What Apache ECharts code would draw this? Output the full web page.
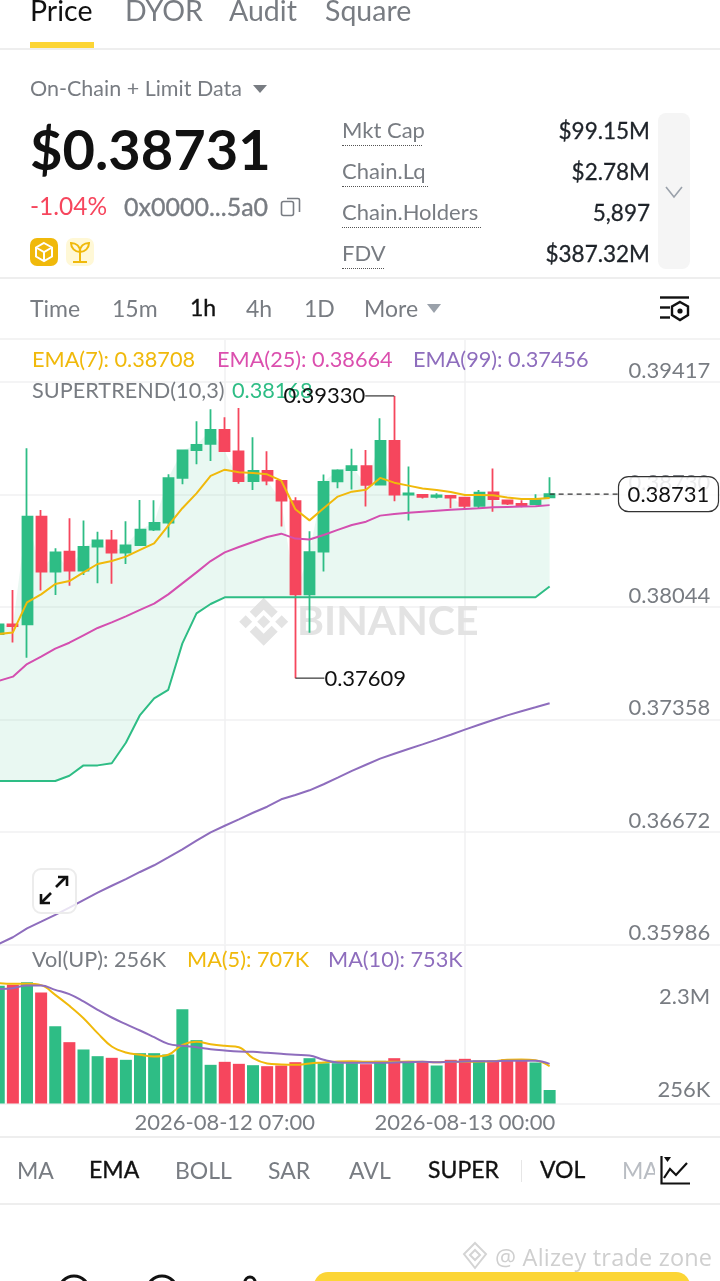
<!DOCTYPE html>
<html><head><meta charset="utf-8">
<script src="https://cdn.jsdelivr.net/npm/echarts@6/dist/echarts.min.js"></script>
<style>
html,body{margin:0;padding:0;background:#fff;width:720px;height:1281px;overflow:hidden;font-family:Lato,sans-serif;}
#c{position:absolute;left:0;top:0;width:720px;height:1281px;}
.t{position:absolute;white-space:nowrap;transform:translateY(-50%);color:#787c82;font-size:22px;line-height:1.2;}
.k{color:#111;}
.m{-webkit-text-stroke:.35px currentColor;}
.b{font-size:23px;}
.r{text-align:right;right:70px;color:#1e2329;font-size:22.5px;-webkit-text-stroke:.3px currentColor;}
.hr{position:absolute;left:0;width:720px;height:1.5px;background:#eeeeee;}
.dot{position:absolute;left:342px;height:0;border-top:1.5px dotted #555;}
svg{position:absolute;overflow:visible;}
</style></head><body>
<div id="c"></div>

<div class="t k" style="left:30px;top:9.5px;font-size:28.5px">Price</div>
<div class="t" style="left:125px;top:9.5px;font-size:28.5px">DYOR</div>
<div class="t" style="left:229px;top:9.5px;font-size:28.5px">Audit</div>
<div class="t" style="left:325px;top:9.5px;font-size:28.5px">Square</div>
<div style="position:absolute;left:30px;top:42px;width:64px;height:6px;background:#FCD535"></div>
<div class="hr" style="top:48px"></div>

<div class="t" style="left:30px;top:89px;font-size:21.5px">On-Chain + Limit Data</div>
<svg style="left:0;top:0" width="10" height="10"><polygon points="253,85 267,85 260,93" fill="#787c82"/></svg>
<div class="t k" style="left:30px;top:149px;font-size:56px;font-weight:700">$0.38731</div>
<div class="t" style="left:30px;top:206px;font-size:24.5px;color:#F6465D">-1.04%</div>
<div class="t m" style="left:124px;top:206px;font-size:25px">0x0000...5a0</div>
<svg style="left:0;top:0" width="10" height="10"><g fill="none" stroke="#787c82" stroke-width="1.6"><rect x="281.5" y="201.5" width="12" height="14" rx="2"/><path d="M287 198.5 h11 a1.5 1.5 0 0 1 1.5 1.5 v12"/></g></svg>
<div style="position:absolute;left:30px;top:238px;width:28px;height:28px;border-radius:7px;background:#F0B90B"></div>
<svg style="left:0;top:0" width="10" height="10"><g fill="none" stroke="#fff" stroke-width="2"><polygon points="44,243 52,247.5 52,256.5 44,261 36,256.5 36,247.5"/><polyline points="37,248 44,252 51,248"/><line x1="44" y1="252" x2="44" y2="260"/></g></svg>
<div style="position:absolute;left:66px;top:238px;width:28px;height:28px;border-radius:7px;background:#FFF8D6"></div>
<svg style="left:0;top:0" width="10" height="10"><g fill="none" stroke="#F0B90B" stroke-width="2"><line x1="80" y1="247" x2="80" y2="262"/><line x1="73" y1="262" x2="87" y2="262"/><path d="M80 252 C75 252 71 248 71 243 C76 243 80 246 80 252 C80 246 84 243 89 243 C89 248 85 252 80 252"/></g></svg>

<div class="t" style="left:342px;top:129.5px">Mkt Cap</div><div class="dot" style="top:145px;width:80px"></div>
<div class="t" style="left:342px;top:170.5px">Chain.Lq</div><div class="dot" style="top:186px;width:86px"></div>
<div class="t" style="left:342px;top:211.5px">Chain.Holders</div><div class="dot" style="top:227px;width:139px"></div>
<div class="t" style="left:342px;top:252.5px">FDV</div><div class="dot" style="top:268px;width:42px"></div>
<div class="t r" style="top:130px">$99.15M</div>
<div class="t r" style="top:171px">$2.78M</div>
<div class="t r" style="top:212px">5,897</div>
<div class="t r" style="top:253px">$387.32M</div>
<div style="position:absolute;left:658px;top:113px;width:32px;height:156px;border-radius:8px;background:#F5F5F5"></div>
<svg style="left:0;top:0" width="10" height="10"><polyline points="666,187 674,197 682,187" fill="none" stroke="#9aa1aa" stroke-width="1.6"/></svg>
<div class="hr" style="top:277px"></div>

<div class="t b" style="left:30px;top:309px">Time</div>
<div class="t b" style="left:112px;top:309px">15m</div>
<div class="t k b m" style="left:190px;top:308px">1h</div>
<div class="t b" style="left:246px;top:309px">4h</div>
<div class="t b" style="left:304px;top:309px">1D</div>
<div class="t b" style="left:364px;top:309px">More</div>
<svg style="left:0;top:0" width="10" height="10"><polygon points="427,304 441,304 434,313" fill="#9aa1aa"/>
<g fill="none" stroke="#111" stroke-width="2.4"><line x1="660" y1="297.5" x2="689" y2="297.5"/><line x1="660" y1="307.5" x2="670" y2="307.5"/><line x1="660" y1="317.5" x2="670" y2="317.5"/><polygon points="680,302 688,306.5 688,315 680,320 672,315 672,306.5"/></g><circle cx="680" cy="311" r="2.6" fill="#111"/></svg>
<div class="hr" style="top:338px;height:2px;background:#f3f3f3"></div>

<div style="position:absolute;left:32px;top:868px;width:41px;height:42px;border:2.5px solid #ececec;border-radius:9px;background:rgba(255,255,255,.8)"></div>
<svg style="left:0;top:0" width="10" height="10"><g fill="none" stroke="#111" stroke-width="2.6"><line x1="56" y1="887" x2="66" y2="877"/><polyline points="58,877 67,877 67,886"/><line x1="41" y1="903" x2="51" y2="893"/><polyline points="41,894 41,903 50,903"/></g></svg>

<div class="hr" style="top:1136px"></div>
<div class="t b" style="left:17px;top:1171px">MA</div>
<div class="t k b m" style="left:89px;top:1170px">EMA</div>
<div class="t b" style="left:175px;top:1171px">BOLL</div>
<div class="t b" style="left:268px;top:1171px">SAR</div>
<div class="t b" style="left:349px;top:1171px">AVL</div>
<div class="t k b m" style="left:428px;top:1170px">SUPER</div>
<div style="position:absolute;left:521px;top:1160px;width:1px;height:22px;background:#e6e6e6"></div>
<div class="t k b m" style="left:540px;top:1170px">VOL</div>
<div class="t b" style="left:622px;top:1171px;color:#b9bdc3;width:33px;overflow:hidden">MA</div>
<svg style="left:0;top:0" width="10" height="10"><g fill="none" stroke="#111" stroke-width="2.2"><polyline points="661.5,1156 661.5,1183.5 690,1183.5"/><polyline points="664,1178 670,1169 676,1175 687,1163"/></g><polygon points="664,1157 671,1157 667.5,1162" fill="#111"/></svg>
<div class="hr" style="top:1203px"></div>

<div class="t" style="left:495px;top:1257px;color:#cfcfcf;font-size:23.5px;letter-spacing:.2px;font-family:'Open Sans'">@ Alizey trade zone</div>
<svg style="left:0;top:0" width="10" height="10"><g fill="none" stroke="#d4d4d4" stroke-width="2"><polygon points="475,1243 486,1254 475,1268 464,1254"/><polygon points="475,1250 480,1255 475,1260 470,1255"/></g></svg>
<svg style="left:0;top:0" width="10" height="10"><g fill="none" stroke="#111" stroke-width="3"><circle cx="74" cy="1291" r="15"/><circle cx="162" cy="1291" r="15"/><circle cx="250" cy="1282" r="5"/></g></svg>
<div style="position:absolute;left:314px;top:1272px;width:376px;height:40px;border-radius:14px;background:#FCD535"></div>

<script>
var times=['08-11 15:00','08-11 16:00','08-11 17:00','08-11 18:00','08-11 19:00','08-11 20:00','08-11 21:00','08-11 22:00','08-11 23:00',
'08-12 00:00','08-12 01:00','08-12 02:00','08-12 03:00','08-12 04:00','08-12 05:00','08-12 06:00','08-12 07:00','08-12 08:00','08-12 09:00','08-12 10:00','08-12 11:00','08-12 12:00','08-12 13:00','08-12 14:00','08-12 15:00','08-12 16:00','08-12 17:00','08-12 18:00','08-12 19:00','08-12 20:00','08-12 21:00','08-12 22:00','08-12 23:00',
'08-13 00:00','08-13 01:00','08-13 02:00','08-13 03:00','08-13 04:00','08-13 05:00','08-13 06:00','08-13 07:00','08-13 08:00','08-13 09:00','08-13 10:00','08-13 11:00','08-13 12:00','08-13 13:00','08-13 14:00','08-13 15:00','08-13 16:00','08-13 17:00','08-13 18:00','08-13 19:00'];
var opens=[.37878,.37937,.37937,.38594,.38258,.3838,.38265,.38411,.38449,.38374,.38421,.38515,.38557,.3883,.39,.39037,.39122,.38992,.38811,.38872,.38811,.38689,.3812,.3838,.38809,.38878,.38901,.38789,.39055,.38728,.38726,.38714,.3872,.3871,.38659,.38742,.38693,.38671,.38671,.38712];
var closes=[.37937,.37927,.38594,.38258,.38376,.38265,.38409,.38449,.38374,.38419,.38515,.38555,.38828,.38998,.39031,.39122,.38994,.38811,.38872,.38813,.38691,.3812,.38378,.38805,.38876,.38901,.38787,.39055,.38728,.38736,.38714,.38724,.3871,.38659,.3874,.387,.38673,.38659,.38695,.38731];
var lows=[.37878,.37827,.37734,.38143,.38116,.38173,.38238,.38187,.38185,.38305,.38417,.38506,.38466,.38791,.38913,.38933,.3899,.38795,.38756,.38785,.38533,.37609,.37886,.3826,.38767,.3876,.38655,.38789,.38687,.38571,.38704,.38704,.38645,.38639,.38645,.38624,.38665,.38651,.38669,.3871];
var highs=[.37937,.38147,.39011,.38634,.38401,.38584,.38571,.38502,.38513,.38565,.38695,.38693,.38852,.38998,.39175,.39248,.392,.39256,.39078,.38992,.38811,.38712,.38504,.3885,.38882,.39008,.39,.39193,.3933,.38899,.38726,.38736,.3872,.3871,.38756,.38887,.38693,.38693,.3873,.38834];
var ema7=[.37878,.37888,.38071,.3812,.38183,.38201,.38254,.38305,.38323,.3835,.38391,.38431,.38539,.38645,.38736,.38842,.3888,.38864,.3886,.38852,.38813,.38639,.38571,.38645,.38716,.38746,.38758,.3883,.38801,.38783,.38765,.38756,.38744,.38726,.38726,.38724,.3871,.38702,.38702,.38708];
var ema25=[.37592,.37618,.37695,.3774,.37789,.37825,.3787,.37915,.37949,.37986,.38025,.38063,.3812,.38187,.38254,.38323,.38376,.38409,.38439,.3847,.3849,.3846,.38454,.38482,.38513,.38543,.38563,.386,.3861,.38618,.38624,.3863,.38636,.38641,.38645,.38651,.38653,.38655,.38657,.38664];
var ema99=[.35988,.36029,.36083,.36124,.36166,.36209,.36256,.36301,.36343,.36384,.36427,.36468,.36516,.36565,.36618,.36669,.36709,.36748,.36788,.36825,.3687,.36896,.36925,.36962,.37002,.37043,.37081,.37118,.37148,.37177,.37205,.37234,.37264,.37295,.37325,.37354,.37382,.37407,.37431,.37456];
var superTrend=[.36982,.36982,.36982,.36982,.36982,.37014,.37077,.37077,.3709,.37215,.37384,.37486,.37538,.37821,.38004,.38061,.38102,.38102,.38102,.38102,.38102,.38102,.38102,.38102,.38102,.38102,.38102,.38102,.38102,.38102,.38102,.38102,.38102,.38102,.38102,.38102,.38102,.38102,.38102,.38168];
var volumes=[2233,2252,2300,2107,1468,1164,1025,898,867,829,955,955,930,1790,1202,734,791,753,727,708,721,784,860,765,765,765,746,810,860,784,797,721,829,848,816,816,841,829,778,256];
var volMa5=[2284,2271,2271,2246,2062,1854,1619,1335,1082,968,924,892,924,1113,1170,1126,1094,1069,860,759,740,734,759,778,797,803,791,791,791,797,791,784,791,791,797,803,829,835,822,707];
var volMa10=[2170,2189,2239,2239,2157,2075,1936,1778,1632,1506,1385,1259,1132,1094,1069,1031,1006,987,981,962,943,924,911,829,778,772,772,772,778,784,791,784,791,797,803,803,810,810,810,753];
var priceTicks=[.35986,.36672,.37358,.38044,.3873,.39417];
var volTicks=[256,2300];
var tickedTimes=['08-12 07:00','08-13 00:00'];
var extremes=[[28,.3933,-1],[21,.37609,1]];
var lastPrice=.38731;

var UP='#2EBD85',DOWN='#F6465D',GRID='#f0f1f2',LABEL='#787c82',FONT='Lato',FS=22;
var isTick=function(i,v){return tickedTimes.indexOf(v)>=0;};
var candles=opens.map(function(o,i){return [o,closes[i],lows[i],highs[i]];});
var idx=function(a){return a.map(function(v,i){return [i,v];});};
var diamond=function(cx,cy,r){return {type:'polygon',z:1,shape:{points:[[cx,cy-r],[cx+r,cy],[cx,cy+r],[cx-r,cy]]},style:{fill:'#e3e3e3'}};};
var chevron=function(cx,cy,s){return {type:'polygon',z:1,shape:{points:[[cx,cy],[cx+14,cy+s*14],[cx+8,cy+s*20],[cx,cy+s*12],[cx-8,cy+s*20],[cx-14,cy+s*14]]},style:{fill:'#e3e3e3'}};};
var legendText=function(x,y,text,color){return {type:'text',z:1,left:x,top:y,style:{text:text,fill:color,font:'400 21.7px '+FONT}};};
var lineS=function(name,data,color,ax,smooth,w){return {name:name,type:'line',xAxisIndex:ax,yAxisIndex:ax,data:data,showSymbol:false,smooth:smooth,z:5,silent:true,lineStyle:{color:color,width:w||2},itemStyle:{color:color}};};

var chart=echarts.init(document.getElementById('c'),null,{renderer:'canvas'});
chart.setOption({
 animation:false,
 grid:[{left:-1.25,top:339,width:734.5,height:605.3,outerBoundsMode:'none'},{left:-1.25,top:945,width:734.5,height:158.5,outerBoundsMode:'none'}],
 xAxis:[
  {type:'category',gridIndex:0,data:times,boundaryGap:false,axisLine:{show:false},axisTick:{show:false},axisLabel:{show:false},
   splitLine:{show:true,interval:isTick,lineStyle:{color:GRID,width:1.5}}},
  {type:'category',gridIndex:1,data:times,boundaryGap:false,axisLine:{show:true,lineStyle:{color:GRID,width:1.5}},axisTick:{show:false},
   splitLine:{show:true,interval:isTick,lineStyle:{color:GRID,width:1.5}},
   axisLabel:{interval:isTick,formatter:function(v){return '2026-'+v;},color:LABEL,fontSize:FS,fontFamily:FONT,margin:8,hideOverlap:false}}
 ],
 yAxis:[
  {type:'value',gridIndex:0,position:'right',min:.35986,max:.39677,axisLine:{show:false},
   axisTick:{show:false,customValues:priceTicks},
   splitLine:{show:true,lineStyle:{color:GRID,width:1.5}},
   axisLabel:{customValues:priceTicks,inside:true,margin:23,verticalAlign:'bottom',align:'right',color:LABEL,fontSize:FS,fontFamily:FONT,lineHeight:22,showMinLabel:true,showMaxLabel:true,
     formatter:function(v){return v.toFixed(5);}}},
  {type:'value',gridIndex:1,position:'right',min:0,max:3008,axisLine:{show:false},
   axisTick:{show:false,customValues:volTicks},splitLine:{show:false},
   axisLabel:{customValues:volTicks,inside:true,margin:23,align:'right',color:LABEL,fontSize:FS,fontFamily:FONT,showMinLabel:true,showMaxLabel:true,
     formatter:function(v){return v>=1000?'{top|'+(v/1000).toFixed(1)+'M}':'{low|'+v+'K}';},
     rich:{top:{color:LABEL,fontSize:FS,fontFamily:FONT,padding:[29,0,0,0]},low:{color:LABEL,fontSize:FS,fontFamily:FONT}}}}
 ],
 graphic:{elements:[
  chevron(263.7,597.7,1),chevron(263.7,645.7,-1),diamond(263.7,621.7,6.5),diamond(245.7,621.7,6.5),diamond(281.7,621.7,6.5),
  {type:'text',z:1,left:297,top:601,style:{text:'BINANCE',fill:'#e3e3e3',font:'700 41px '+FONT}},
  legendText(32,349,'EMA(7): 0.38708','#F0B90B'),
  legendText(217,349,'EMA(25): 0.38664','#DB4FAE'),
  legendText(413,349,'EMA(99): 0.37456','#8E6DBD'),
  legendText(32,380,'SUPERTREND(10,3)',LABEL),
  legendText(232,380,'0.38168',UP),
  legendText(32,949,'Vol(UP): 256K',LABEL),
  legendText(187,949,'MA(5): 707K','#F0B90B'),
  legendText(328,949,'MA(10): 753K','#8E6DBD')
 ]},
 series:[
  {name:'fill',type:'custom',xAxisIndex:0,yAxisIndex:0,z:1,silent:true,data:idx(closes),
   renderItem:function(p,api){
     if(p.dataIndex!==0)return null;
     var pts=[],i;
     for(i=0;i<closes.length;i++)pts.push(api.coord([i,closes[i]]));
     for(i=closes.length-1;i>=0;i--)pts.push(api.coord([i,superTrend[i]]));
     return {type:'polygon',shape:{points:pts},style:{fill:'rgba(46,189,133,0.105)'}};
   }},
  {name:'K',type:'candlestick',xAxisIndex:0,yAxisIndex:0,data:candles,barWidth:10.5,z:3,silent:true,
   itemStyle:{color:UP,color0:DOWN,borderColor:UP,borderColor0:DOWN,borderWidth:1.8}},
  lineS('SUPERTREND',idx(superTrend),UP,0,false,2),
  lineS('EMA99',idx(ema99),'#8E6DBD',0,false,2),
  lineS('EMA25',idx(ema25),'#D44FB0',0,false,2),
  lineS('EMA7',idx(ema7),'#F0B90B',0,false,2),
  {name:'extremes',type:'custom',xAxisIndex:0,yAxisIndex:0,z:6,silent:true,clip:false,data:extremes,
   renderItem:function(p,api){
     var c=api.coord([api.value(0),api.value(1)]),d=api.value(2);
     return {type:'group',children:[
       {type:'line',shape:{x1:c[0],y1:c[1],x2:c[0]+d*29,y2:c[1]},style:{stroke:'#333',lineWidth:1.2}},
       {type:'text',style:{x:c[0]+d*29,y:c[1]+.5,text:api.value(1).toFixed(5),fill:'#111',font:'400 '+FS+'px '+FONT,align:d>0?'left':'right',verticalAlign:'middle'}}
     ]};
   }},
  {name:'last',type:'custom',xAxisIndex:0,yAxisIndex:0,z:7,silent:true,clip:false,data:[[39,lastPrice]],
   renderItem:function(p,api){
     var c=api.coord([api.value(0),api.value(1)]);
     return {type:'group',children:[
       {type:'line',shape:{x1:c[0],y1:c[1],x2:618,y2:c[1]},style:{stroke:'#333',lineWidth:1.2,lineDash:[5,4]}},
       {type:'rect',shape:{x:618.5,y:c[1]-17.5,width:100,height:35,r:10},style:{fill:'rgba(255,255,255,.85)',stroke:'#333',lineWidth:1.2}},
       {type:'text',style:{x:668.5,y:c[1]+1,text:api.value(1).toFixed(5),fill:'#111',font:'400 '+FS+'px '+FONT,align:'center',verticalAlign:'middle'}}
     ]};
   }},
  {name:'VOL',type:'bar',xAxisIndex:1,yAxisIndex:1,data:volumes,barWidth:12,z:3,silent:true,
   itemStyle:{color:function(p){return closes[p.dataIndex]>=opens[p.dataIndex]?UP:DOWN;}}},
  lineS('MA5',idx(volMa5),'#F0B90B',1,.4,2),
  lineS('MA10',idx(volMa10),'#8E6DBD',1,.4,2)
 ]
});
</script>
</body></html>
